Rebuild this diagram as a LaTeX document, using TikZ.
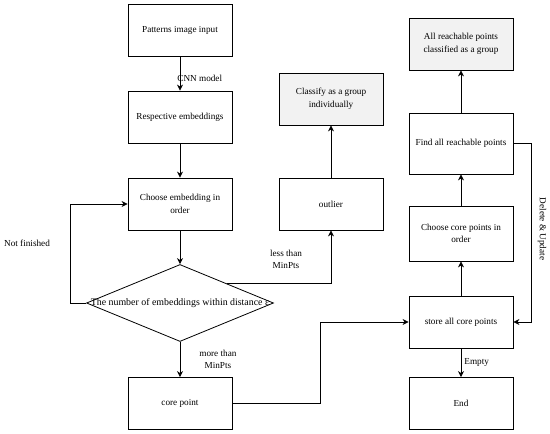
\documentclass[tikz,border=0pt]{standalone}
\usepackage{fontspec}
\setmainfont{Liberation Serif}
\usetikzlibrary{shapes.geometric,arrows.meta}

\begin{document}
\begin{tikzpicture}[x=1pt,y=-1pt,
  box/.style={draw,line width=0.8pt,minimum width=104,minimum height=52,align=center,font=\fontsize{9.2}{12.5}\selectfont,inner sep=0},
  greybox/.style={box,fill=gray!10},
  decision/.style={draw,diamond,line width=0.8pt,minimum width=187,minimum height=77,inner sep=0},
  lbl/.style={font=\fontsize{9.2}{12.5}\selectfont,align=center,inner sep=1},
  flow/.style={line width=0.8pt,-{Stealth[length=6pt,width=6pt]}}]
\useasboundingbox (0,0) rectangle (550,434);
% left column
\node[box] (input) at (180,30) {Patterns image input};
\node[box] (embed) at (180,117) {Respective embeddings};
\node[box] (choose) at (180,204) {Choose embedding in\\order};
\node[decision] (count) at (180,303) {};
\node[lbl,font=\fontsize{9.9}{12}\selectfont] at (count.center) {The number of embeddings within distance ε};
\node[box] (core) at (180,403.5) {core point};
% middle column
\node[greybox] (single) at (331,99) {Classify as a group\\individually};
\node[box] (outlier) at (331,204) {outlier};
% right column
\node[greybox] (group) at (461,44) {All reachable points\\classified as a group};
\node[box,minimum height=61] (find) at (461,143.5) {Find all reachable points};
\node[box,minimum height=55] (corechoose) at (461,233.5) {Choose core points in\\order};
\node[box] (store) at (461,322) {store all core points};
\node[box] (end) at (461,403.5) {End};
\coordinate (loopL) at (70,204);
\coordinate (loopR) at (531,143.5);
\coordinate (mid) at (320,322);
% connectors
\draw[flow] (input) -- node[lbl,right,pos=0.65,xshift=-4] {CNN model} (embed);
\draw[flow] (embed) -- (choose);
\draw[flow] (choose) -- (count);
\draw[flow] (count.south) -- node[lbl,right,xshift=18] {more than\\MinPts} (core);
\draw[flow] (count.west) -| (loopL) -- (choose.west);
\node[lbl] at (27,243) {Not finished};
\draw[flow] (227,283.5) -- (outlier.south |- 227,283.5) -- (outlier);
\node[lbl] at (286,259.5) {less than\\MinPts};
\draw[flow] (outlier) -- (single);
\draw[flow] (core.east) -| (mid) -- (store.west);
\draw[flow] (store) -- node[lbl,right,xshift=2] {Empty} (end);
\draw[flow] (store) -- (corechoose);
\draw[flow] (corechoose) -- (find);
\draw[flow] (find) -- (group);
\draw[flow] (find.east) -- (loopR) |- (store.east);
\node[lbl,rotate=-90] at (542,229) {Delete \& Update};
\end{tikzpicture}
\end{document}
